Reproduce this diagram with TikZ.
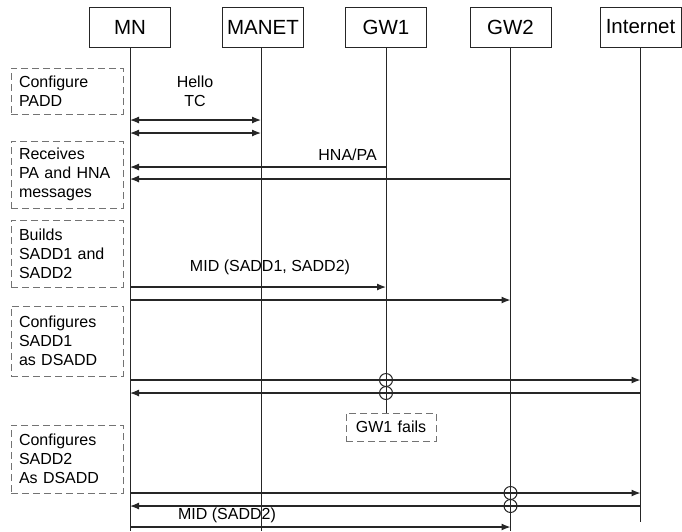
\documentclass[tikz,border=0pt]{standalone}
\usepackage{fontspec}
\setmainfont{Liberation Sans}
\usetikzlibrary{arrows.meta}
\tikzset{
  ent/.style={draw=black!85, line width=0.9pt, minimum width=81pt, minimum height=40pt, inner sep=0pt, font=\fontsize{20.5}{24}\selectfont},
  note/.style={draw=black!55, line width=0.7pt, dash pattern=on 7pt off 4pt, minimum width=112pt, inner sep=0pt, text width=96pt, align=left, font=\fontsize{16}{19}\selectfont},
  lbl/.style={font=\fontsize{16}{19}\selectfont, inner sep=0pt},
  life/.style={draw=black!85, line width=0.9pt},
  msg/.style={draw=black!85, line width=1.2pt, -{Latex[length=9pt,width=7pt]}},
  both/.style={msg, {Latex[length=9pt,width=7pt]}-{Latex[length=9pt,width=7pt]}},
  xing/.style={draw=black!85, line width=1pt},
}
\begin{document}
\begin{tikzpicture}[x=1pt,y=-1pt]
\useasboundingbox (0,0) rectangle (682,531);
% entities
\node[ent] (mn)    at (130,27)   {MN};
\node[ent] (manet) at (263,27)   {MANET};
\node[ent] (gw1)   at (386,27)   {GW1};
\node[ent] (gw2)   at (510.5,27) {GW2};
\node[ent] (inet)  at (640.5,27) {Internet};
% GW1 failure
\node[note, minimum width=90pt, text width=90pt, align=center, minimum height=28pt] (fail) at (391,427) {GW1 fails};
% lifelines
\draw[life] (mn.south)    -- (mn |- 0,531);
\draw[life] (261,47)      -- (261,531);
\draw[life] (gw1.south)   -- (gw1 |- fail.north);
\draw[life] (gw2.south)   -- (gw2 |- 0,531);
\draw[life] (inet.south)  -- (inet |- 0,522);
% notes on the left
\node[note, minimum height=46pt] (padd) at (67,91)    {Configure\\PADD};
\node[note, minimum height=67pt] (recv) at (67,174.5) {Receives\\PA and HNA\\messages};
\node[note, minimum height=67pt] (bld)  at (67,253.5) {Builds\\SADD1 and\\SADD2};
\node[note, minimum height=70pt] (ds1)  at (67,341)   {Configures\\SADD1\\as DSADD};
\node[note, minimum height=68pt] (ds2)  at (67,459)   {Configures\\SADD2\\As DSADD};
% Hello / TC
\node[lbl, align=center] (hello) at (195,91.5) {Hello\\TC};
\draw[both] (mn |- 0,120) -- (261,120);
\draw[both] (mn |- 0,133) -- (261,133);
% HNA/PA
\node[lbl, anchor=east] (hna) at (377,155) {HNA/PA};
\draw[msg] (gw1 |- 0,167) -- (mn |- 0,167);
\draw[msg] (gw2 |- 0,179) -- (mn |- 0,179);
% MID
\node[lbl] (mid1) at (270,267) {MID (SADD1, SADD2)};
\draw[msg] (mn |- 0,287) -- (gw1 |- 0,287);
\draw[msg] (mn |- 0,300) -- (gw2 |- 0,300);
% traffic through GW1
\draw[msg] (mn |- 0,380) -- (inet |- 0,380);
\draw[msg] (inet |- 0,393) -- (mn |- 0,393);
\draw[xing] (gw1 |- 0,380) circle (6.5pt);
\draw[xing] (gw1 |- 0,393) circle (6.5pt);
% traffic through GW2
\draw[msg] (mn |- 0,493) -- (inet |- 0,493);
\draw[msg] (inet |- 0,506) -- (mn |- 0,506);
\draw[xing] (gw2 |- 0,493) circle (6.5pt);
\draw[xing] (gw2 |- 0,506) circle (6.5pt);
\node[lbl] (mid2) at (227,515) {MID (SADD2)};
\draw[msg] (mn |- 0,527) -- (gw2 |- 0,527);
\end{tikzpicture}
\end{document}
